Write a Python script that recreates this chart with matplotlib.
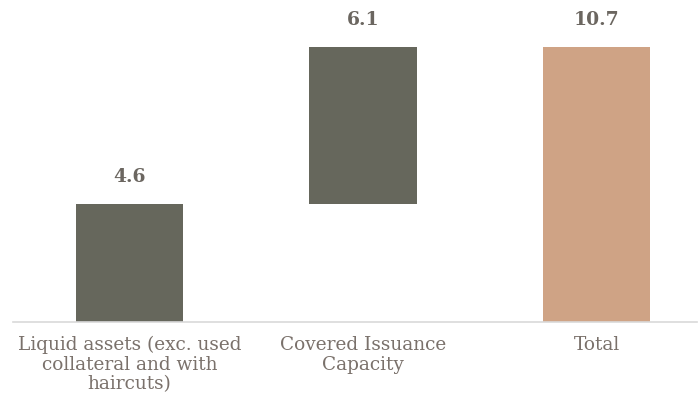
import matplotlib
matplotlib.use('Agg')
import matplotlib.pyplot as plt

categories = ['Liquid assets (exc. used\ncollateral and with\nhaircuts)',
              'Covered Issuance\nCapacity', 'Total']
values = [4.6, 6.1, 10.7]
bottoms = [0, 4.6, 0]
colors = ['#66675c', '#66675c', '#cfa385']

plt.rcParams['font.family'] = ['DejaVu Serif']

fig = plt.figure(figsize=(6.98, 3.98), dpi=100)
ax = fig.add_axes([0.0186, 0.191, 0.98, 0.809])

x = range(len(categories))
ax.bar(x, values, bottom=bottoms, width=0.46, color=colors)

for i, (v, b) in enumerate(zip(values, bottoms)):
    ax.annotate(f"{v:.1f}", (i, v + b), xytext=(0, 13), textcoords='offset points',
                ha='center', va='bottom', fontsize=13.5, fontweight='bold', color='#6b6660')

ax.set_xlim(-0.5, 2.43)
ax.set_ylim(0, 12.53)
ax.set_yticks([])
ax.set_xticks(list(x))
ax.set_xticklabels(categories, fontsize=13.3, color='#7a716b', linespacing=1.12)
ax.tick_params(axis='x', length=0, pad=10)
for s in ['top', 'right', 'left']:
    ax.spines[s].set_visible(False)
ax.spines['bottom'].set_color('#d9d9d9')
ax.spines['bottom'].set_linewidth(1.2)

fig.savefig('out.png', dpi=100)
